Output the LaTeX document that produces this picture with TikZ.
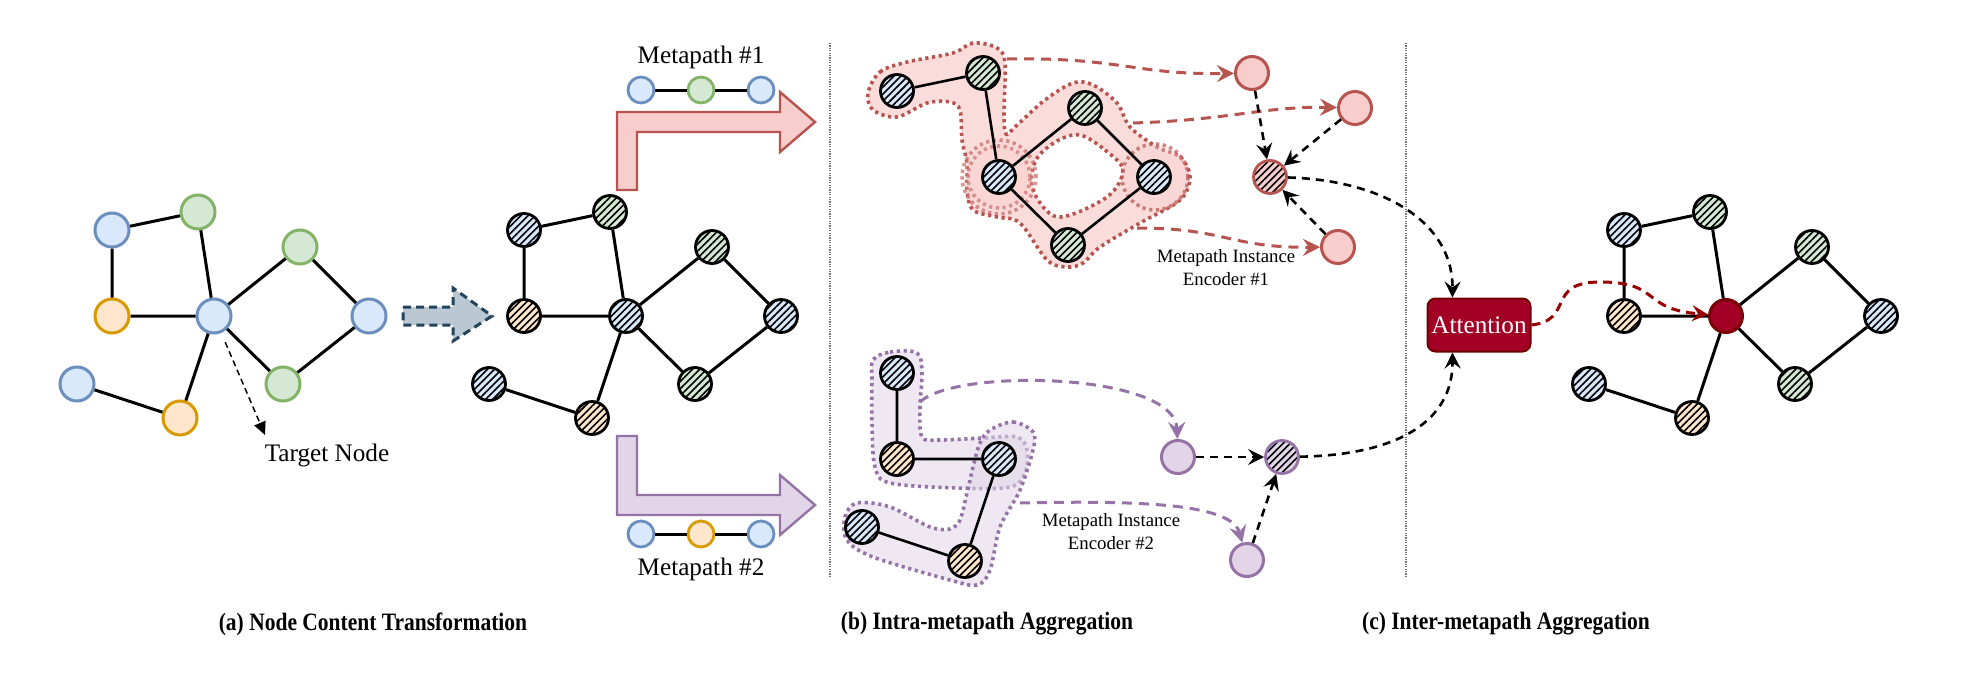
\documentclass[tikz,border=0pt]{standalone}
\usepackage{fontspec}
\setmainfont{Liberation Serif}
\newfontfamily\capfont[FakeStretch=0.86]{Liberation Serif}
\usetikzlibrary{arrows.meta,patterns.meta,shapes.geometric}
\definecolor{blueF}{HTML}{DAE8FC}\definecolor{blueS}{HTML}{6C8EBF}
\definecolor{greenF}{HTML}{D5E8D4}\definecolor{greenS}{HTML}{82B366}
\definecolor{orangeF}{HTML}{FFE6CC}\definecolor{orangeS}{HTML}{D79B00}
\definecolor{redF}{HTML}{F8CECC}\definecolor{redS}{HTML}{B85450}
\definecolor{purpleF}{HTML}{E1D5E7}\definecolor{purpleS}{HTML}{9673A6}
\definecolor{grayF}{HTML}{BAC8D3}\definecolor{grayS}{HTML}{23445D}
\definecolor{attF}{HTML}{A20025}\definecolor{attS}{HTML}{6F0000}
\definecolor{darkArr}{HTML}{990000}
\begin{document}
\begin{tikzpicture}[x=0.5pt,y=-0.5pt,
  plain/.style={circle,minimum size=17pt,inner sep=0pt,line width=1.5pt},
  pb/.style={plain,fill=blueF,draw=blueS},
  pg/.style={plain,fill=greenF,draw=greenS},
  po/.style={plain,fill=orangeF,draw=orangeS},
  hn/.style={circle,minimum size=16.5pt,inner sep=0pt,line width=1.4pt,draw=black,
     preaction={fill=#1},pattern={Lines[angle=45,distance=2.5pt,line width=0.8pt]}},
  mini/.style={circle,minimum size=13pt,inner sep=0pt,line width=1.4pt},
  enc/.style={circle,minimum size=16.5pt,inner sep=0pt,line width=1.5pt},
  edge/.style={line width=1.5pt,black},
  hedge/.style={line width=1.3pt,black},
  txt/.style={font=\fontsize{12.6}{15}\selectfont,inner sep=0pt},
  enctxt/.style={font=\fontsize{9.4}{11.5}\selectfont,align=center,inner sep=0pt},
  captxt/.style={font=\capfont\bfseries\fontsize{12.5}{15}\selectfont,inner sep=0pt},
  sep/.style={draw=black!55,line width=0.6pt,dash pattern=on 0.6pt off 0.6pt},
  tgtarrow/.style={line width=0.75pt,dash pattern=on 3pt off 2pt,-{Triangle[length=6.5pt,width=6pt]}},
  redarrow/.style={draw=redS,line width=1.5pt,dash pattern=on 5pt off 3.5pt,-{Stealth[length=8.5pt,width=8.5pt,inset=3pt]}},
  purparrow/.style={draw=purpleS,line width=1.5pt,dash pattern=on 5pt off 3.5pt,-{Stealth[length=8.5pt,width=8.5pt,inset=3pt]}},
  blackarrow/.style={draw=black,line width=1.3pt,dash pattern=on 4pt off 3pt,-{Stealth[length=8pt,width=8pt,inset=3pt]}},
  darkarrow/.style={draw=darkArr,line width=1.5pt,dash pattern=on 4.5pt off 3pt,-{Stealth[length=8pt,width=8pt,inset=3pt]}},
  redzone/.style={fill=redF,fill opacity=0.7,draw=redS,line width=1.8pt,dash pattern=on 1.6pt off 1.8pt},
  purpzone/.style={fill=purpleF,fill opacity=0.55,draw=purpleS,line width=1.8pt,dash pattern=on 1.6pt off 1.8pt},
  attbox/.style={rectangle,rounded corners=4pt,fill=attF,draw=attS,line width=1pt,text=white,
     minimum width=51.5pt,minimum height=26.5pt,inner sep=0pt,font=\fontsize{12.6}{15}\selectfont}
]
\useasboundingbox (0,0) rectangle (1988,680);

% ---------- separators
\draw[sep] (830,43) -- (830,578);
\draw[sep] (1406,43) -- (1406,578);

% ---------- (a) original graph
\node[pb] (a1) at (112,230) {};
\node[pg] (a2) at (198,212) {};
\node[po] (a3) at (112,316) {};
\node[pb] (a4) at (214,316) {};
\node[pg] (a5) at (300,247) {};
\node[pb] (a6) at (369,316) {};
\node[pg] (a7) at (283,384) {};
\node[pb] (a8) at (77,384) {};
\node[po] (a9) at (180,418) {};
\draw[edge] (a1)--(a2) (a1)--(a3) (a2)--(a4) (a3)--(a4) (a4)--(a5) (a5)--(a6) (a6)--(a7) (a7)--(a4) (a4)--(a9) (a9)--(a8);
\coordinate (tt) at (265,435);
\draw[tgtarrow,shorten <=5pt] (a4) -- (tt);
\node[txt] (tl) at (327,455) {Target Node};

% gray transform arrow
\draw[fill=grayF,draw=grayS,line width=1.5pt,dash pattern=on 4pt off 2.5pt]
  (403,307) -- (453,307) -- (453,288) -- (492,316) -- (453,341) -- (453,325) -- (403,325) -- cycle;

% ---------- (a) transformed graph
\node[hn=blueF] (b1) at (524,230) {};
\node[hn=greenF] (b2) at (610,212) {};
\node[hn=orangeF] (b3) at (524,316) {};
\node[hn=blueF] (b4) at (626,316) {};
\node[hn=greenF] (b5) at (712,247) {};
\node[hn=blueF] (b6) at (781,316) {};
\node[hn=greenF] (b7) at (695,384) {};
\node[hn=blueF] (b8) at (489,384) {};
\node[hn=orangeF] (b9) at (592,418) {};
\draw[edge] (b1)--(b2) (b1)--(b3) (b2)--(b4) (b3)--(b4) (b4)--(b5) (b5)--(b6) (b6)--(b7) (b7)--(b4) (b4)--(b9) (b9)--(b8);

% metapath arrows
\draw[fill=redF,draw=redS,line width=1.2pt]
  (617,190) -- (617,112) -- (780,112) -- (780,92) -- (815,122) -- (780,152) -- (780,132) -- (637,132) -- (637,190) -- cycle;
\draw[fill=purpleF,draw=purpleS,line width=1.2pt]
  (617,436) -- (637,436) -- (637,495) -- (780,495) -- (780,475) -- (815,505) -- (780,535) -- (780,515) -- (617,515) -- cycle;
\node[txt] (mp1) at (701,57) {Metapath \#1};
\node[mini,fill=blueF,draw=blueS] (m11) at (641,90) {};
\node[mini,fill=greenF,draw=greenS] (m12) at (701,90) {};
\node[mini,fill=blueF,draw=blueS] (m13) at (761,90) {};
\draw[edge] (m11)--(m12) (m12)--(m13);
\node[txt] (mp2) at (701,569) {Metapath \#2};
\node[mini,fill=blueF,draw=blueS] (m21) at (641,534) {};
\node[mini,fill=orangeF,draw=orangeS] (m22) at (701,534) {};
\node[mini,fill=blueF,draw=blueS] (m23) at (761,534) {};
\draw[edge] (m21)--(m22) (m22)--(m23);

% ---------- (b) metapath #1 instances
\path[redzone,even odd rule]
  plot[smooth cycle,tension=0.55] coordinates {(868,93) (880,72) (907,62) (953,53) (973,43) (997,48) (1005,63) (1004,113) (1006,134) (1016,126) (1045,100) (1073,83) (1093,85) (1117,103) (1130,127) (1157,147) (1180,157) (1190,177) (1180,200) (1140,223) (1100,247) (1083,263) (1067,267) (1047,260) (1020,223) (997,217) (973,210) (967,190) (967,163) (962,140) (960,110) (950,102) (927,103) (897,117) (873,110)}
  plot[smooth cycle,tension=0.55] coordinates {(1080,135) (1105,150) (1123,170) (1107,197) (1058,217) (1033,190) (1036,160) (1057,141)};
\draw[redzone,fill opacity=0.35,draw opacity=0.7] (999,177) circle[radius=15.5pt];
\draw[redzone,fill opacity=0.25,draw opacity=0.6] (999,177) circle[radius=18.5pt];
\draw[redzone,fill opacity=0.35,draw opacity=0.7] (1155,177) circle[radius=16.5pt];
\node[hn=blueF] (r1) at (897,91) {};
\node[hn=greenF] (r2) at (983,73) {};
\node[hn=blueF] (r3) at (999,177) {};
\node[hn=greenF] (r4) at (1085,108) {};
\node[hn=blueF] (r5) at (1154,177) {};
\node[hn=greenF] (r6) at (1068,245) {};
\draw[hedge] (r1)--(r2) (r2)--(r3) (r3)--(r4) (r4)--(r5) (r5)--(r6) (r6)--(r3);

\node[enc,fill=redF,draw=redS] (n1) at (1252,73) {};
\node[enc,fill=redF,draw=redS] (n2) at (1355,108) {};
\node[hn=redF,draw=redS] (n3) at (1270,177) {};
\node[enc,fill=redF,draw=redS] (n4) at (1338,247) {};
\coordinate (s1) at (1007,59);
\coordinate (s2) at (1133,123);
\coordinate (s3) at (1137,228);
\draw[redarrow] (s1) .. controls (1120,57) and (1135,75) .. (n1);
\draw[redarrow] (s2) .. controls (1230,120) and (1265,106) .. (n2);
\draw[redarrow] (s3) .. controls (1225,228) and (1230,248) .. (n4);
\draw[blackarrow] (n1) -- (n3);
\draw[blackarrow] (n2) -- (n3);
\draw[blackarrow] (n4) -- (n3);
\node[enctxt] (e1) at (1226,268) {Metapath Instance\\Encoder \#1};

% ---------- (b) metapath #2 instances
\path[purpzone] plot[smooth cycle,tension=0.55] coordinates {(873,360) (890,352) (917,353) (922,373) (920,407) (922,437) (940,440) (983,438) (1017,437) (1027,450) (1025,473) (1010,487) (957,488) (890,483) (875,467) (872,423) (872,380)};
\path[purpzone] plot[smooth cycle,tension=0.55] coordinates {(990,430) (1013,422) (1033,432) (1033,450) (1020,490) (1000,527) (990,570) (977,585) (950,580) (873,557) (847,540) (845,517) (857,503) (890,507) (933,528) (957,525) (967,493) (973,467) (980,443)};
\node[hn=blueF] (q1) at (897,373) {};
\node[hn=orangeF] (q2) at (897,459) {};
\node[hn=blueF] (q3) at (999,459) {};
\node[hn=blueF] (q4) at (862,527) {};
\node[hn=orangeF] (q5) at (965,561) {};
\draw[hedge] (q1)--(q2) (q2)--(q3) (q3)--(q5) (q5)--(q4);

\node[enc,fill=purpleF,draw=purpleS] (p1) at (1178,457) {};
\node[hn=purpleF,draw=purpleS] (p2) at (1282,457) {};
\node[enc,fill=purpleF,draw=purpleS] (p3) at (1247,560) {};
\coordinate (u1) at (920,402);
\coordinate (u2) at (1020,503);
\draw[purparrow] (u1) .. controls (955,368) and (1175,372) .. (p1);
\draw[purparrow] (u2) .. controls (1150,500) and (1232,505) .. (p3);
\draw[blackarrow] (p1) -- (p2);
\draw[blackarrow] (p3) -- (p2);
\node[enctxt] (e2) at (1111,532) {Metapath Instance\\Encoder \#2};

% ---------- (c)
\node[attbox] (att) at (1479,325) {Attention};
\draw[blackarrow] (n3) .. controls (1380,180) and (1453,220) .. (att.134);
\draw[blackarrow] (p2) .. controls (1400,455) and (1453,420) .. (att.226);

\node[hn=blueF] (c1) at (1624,230) {};
\node[hn=greenF] (c2) at (1710,212) {};
\node[hn=orangeF] (c3) at (1624,316) {};
\node[enc,fill=attF,draw=attS!80!attF] (c4) at (1726,316) {};
\node[hn=greenF] (c5) at (1812,247) {};
\node[hn=blueF] (c6) at (1881,316) {};
\node[hn=greenF] (c7) at (1795,384) {};
\node[hn=blueF] (c8) at (1589,384) {};
\node[hn=orangeF] (c9) at (1692,418) {};
\draw[edge] (c1)--(c2) (c1)--(c3) (c2)--(c4) (c3)--(c4) (c4)--(c5) (c5)--(c6) (c6)--(c7) (c7)--(c4) (c4)--(c9) (c9)--(c8);
\draw[darkarrow] (att.east) .. controls (1575,320) and (1545,282) .. (1600,282) .. controls (1662,282) and (1640,309) .. (c4);

% ---------- captions
\node[captxt] (capa) at (373,624) {(a) Node Content Transformation};
\node[captxt] (capb) at (987,624) {(b) Intra-metapath Aggregation};
\node[captxt] (capc) at (1506,624) {(c) Inter-metapath Aggregation};
\end{tikzpicture}
\end{document}
